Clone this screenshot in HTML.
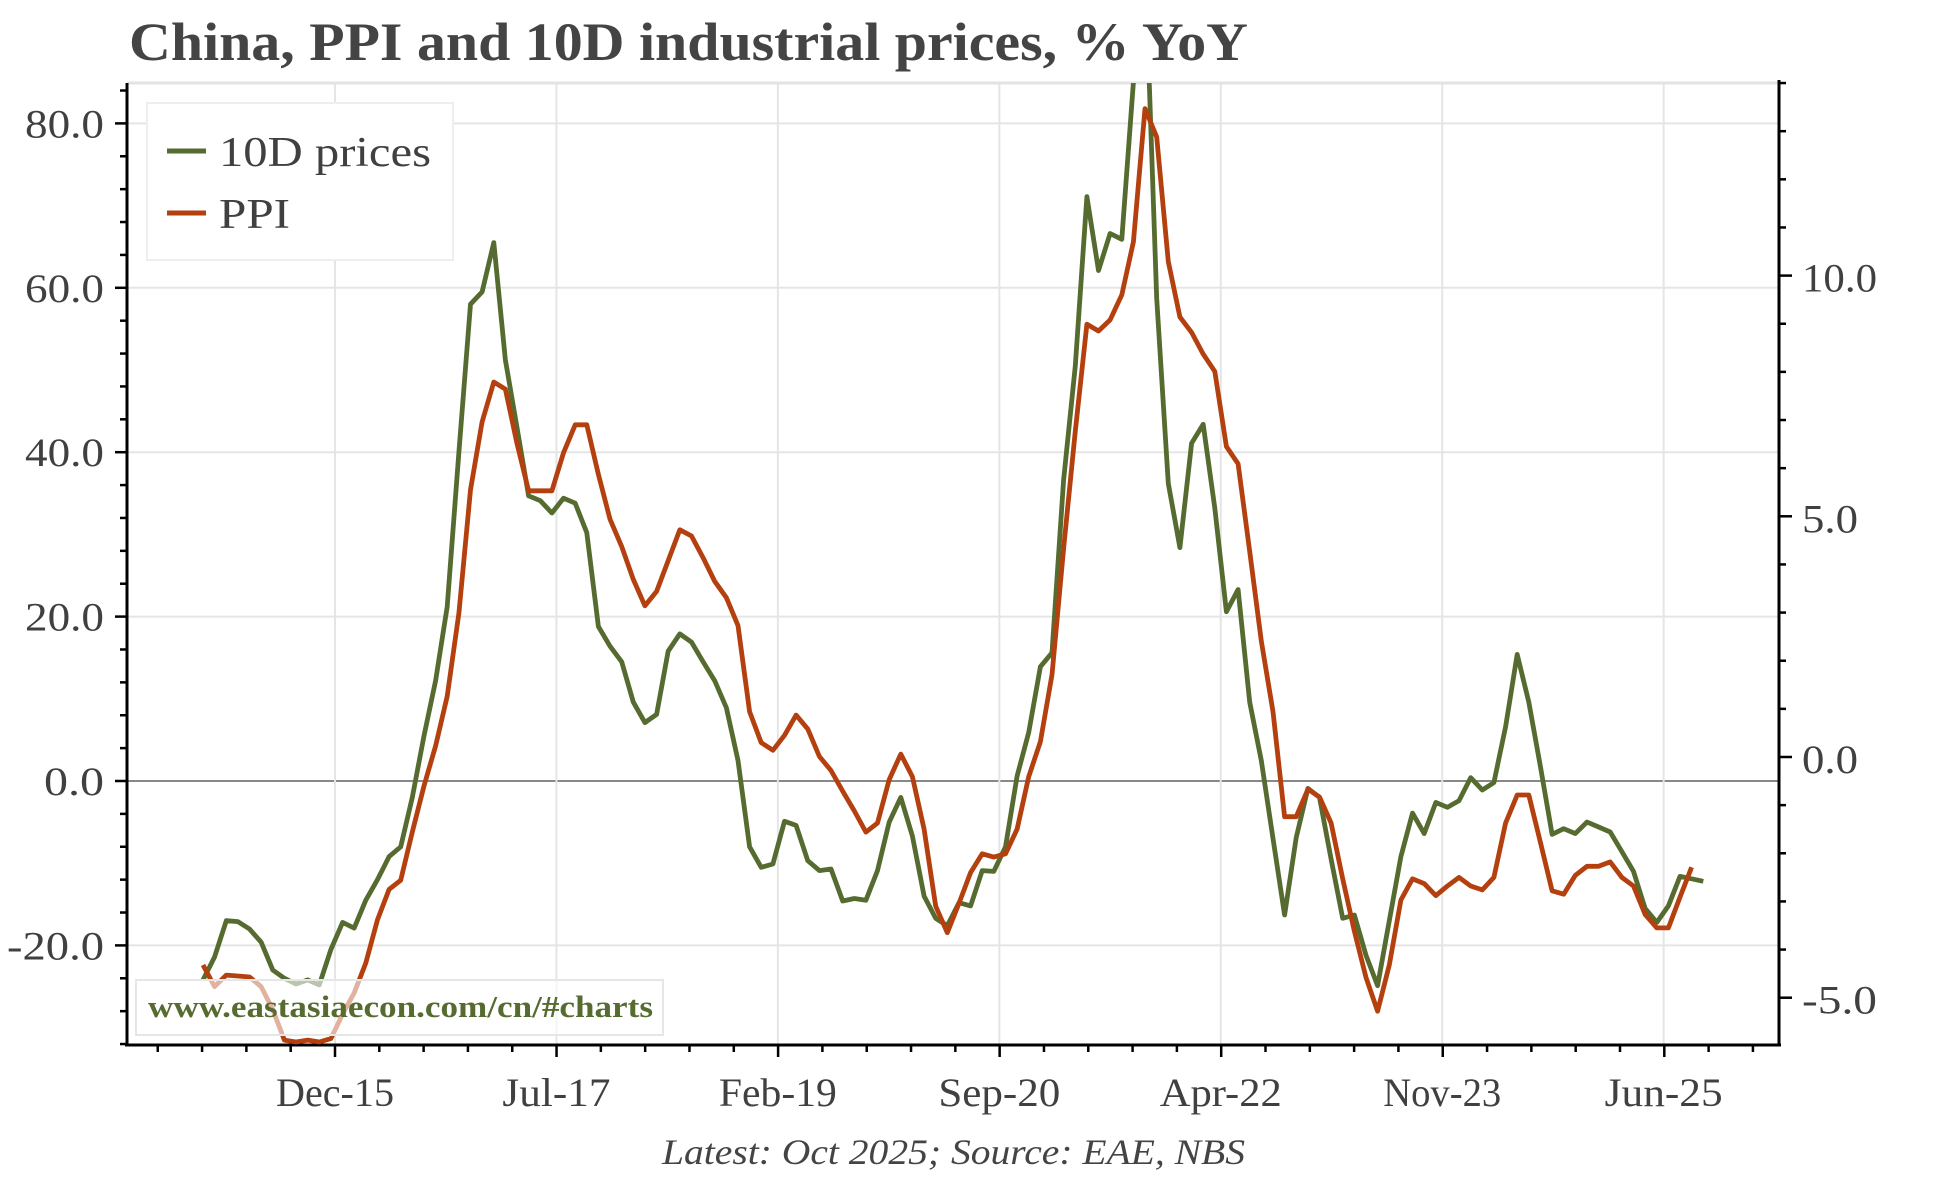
<!DOCTYPE html>
<html><head><meta charset="utf-8"><title>China, PPI and 10D industrial prices</title>
<style>
html,body{margin:0;padding:0;background:#fff;}
svg{display:block;font-family:"Liberation Serif",serif;}
</style></head>
<body>
<svg id="chart" width="1944" height="1178" viewBox="0 0 1944 1178" xmlns="http://www.w3.org/2000/svg">
  <defs><clipPath id="plotclip"><rect x="127" y="83" width="1652" height="962"/></clipPath></defs>
  <rect x="0" y="0" width="1944" height="1178" fill="#fff"/>
  <text x="129" y="60" font-size="54" font-weight="bold" fill="#444" textLength="1119" lengthAdjust="spacingAndGlyphs">China, PPI and 10D industrial prices, % YoY</text>
  <g id="grid"></g>
  <g id="axes"></g>
  <g id="series" clip-path="url(#plotclip)"></g>
  <g>
    <rect x="147" y="103" width="306" height="157" fill="#fff" stroke="#eeeeee" stroke-width="2"/>
    <line x1="167" y1="151" x2="206" y2="151" stroke="#566b30" stroke-width="5"/>
    <text x="219" y="166" font-size="42" fill="#404040" textLength="212" lengthAdjust="spacingAndGlyphs">10D prices</text>
    <line x1="167" y1="213" x2="206" y2="213" stroke="#b5400f" stroke-width="5"/>
    <text x="219" y="228" font-size="42" fill="#404040" textLength="71" lengthAdjust="spacingAndGlyphs">PPI</text>
  </g>
  <g>
    <rect x="136" y="980" width="527" height="55" fill="#fff" fill-opacity="0.6" stroke="#e6e6e6" stroke-width="2"/>
    <text x="148" y="1017" font-size="31" font-weight="bold" fill="#566b30" textLength="505" lengthAdjust="spacingAndGlyphs">www.eastasiaecon.com/cn/#charts</text>
  </g>
  <text x="662" y="1164" font-size="36" font-style="italic" fill="#444" textLength="583" lengthAdjust="spacingAndGlyphs">Latest: Oct 2025; Source: EAE, NBS</text>
</svg>
<script>
// ---- data (monthly, Jan 2015 onwards) ----
const tenD = [-24.2,-21.4,-17,-17.1,-18,-19.6,-23,-24,-24.7,-24.2,-24.8,-20.5,-17.2,-17.9,-14.5,-12,-9.2,-8,-2,5.5,
  12.2,21.2,40,58,59.5,65.5,51.2,43,34.7,34.1,32.6,34.4,33.8,30.2,18.8,16.4,14.5,9.6,7.1,8.1,
  15.8,17.9,16.9,14.5,12.2,8.9,2.5,-8,-10.5,-10.1,-4.9,-5.4,-9.7,-10.9,-10.7,-14.6,-14.3,-14.5,-10.9,-5,
  -2,-6.7,-14,-16.7,-17.6,-14.8,-15.2,-10.9,-11,-8,0.6,5.9,13.9,15.6,36.6,50.5,71.1,62.1,66.6,65.9,
  85,100,58.7,36.2,28.4,41.1,43.4,33.2,20.6,23.3,9.6,2.5,-7,-16.3,-6.9,-0.9,-2,-9.5,-16.7,-16.3,
  -21.2,-24.9,-17,-9.2,-3.9,-6.4,-2.6,-3.2,-2.4,0.4,-1.1,-0.2,6.6,15.4,9.6,1.7,-6.5,-5.8,-6.4,-5,
  -5.6,-6.2,-8.6,-11,-15.5,-17.2,-15.2,-11.6,-11.9,-12.2];
const ppi = [-4.32,-4.77,-4.53,-4.55,-4.57,-4.77,-5.25,-5.88,-5.92,-5.88,-5.92,-5.85,-5.34,-4.9,-4.28,-3.38,-2.75,-2.56,-1.56,-0.6,
  0.23,1.26,2.99,5.55,6.96,7.79,7.64,6.51,5.53,5.53,5.53,6.32,6.9,6.9,5.87,4.94,4.37,3.69,3.14,3.44,
  4.08,4.72,4.59,4.14,3.65,3.31,2.73,0.94,0.3,0.14,0.45,0.87,0.58,0.01,-0.28,-0.71,-1.12,-1.56,-1.37,-0.47,
  0.06,-0.41,-1.5,-3.1,-3.65,-3.04,-2.4,-2.01,-2.08,-2.01,-1.5,-0.41,0.32,1.71,4.33,6.77,8.99,8.85,9.08,9.6,
  10.7,13.47,12.88,10.29,9.14,8.82,8.37,8.01,6.45,6.09,4.27,2.41,0.94,-1.24,-1.24,-0.67,-0.83,-1.37,-2.53,-3.62,
  -4.58,-5.28,-4.32,-2.97,-2.53,-2.63,-2.88,-2.68,-2.5,-2.68,-2.76,-2.5,-1.37,-0.79,-0.79,-1.78,-2.78,-2.85,-2.46,-2.27,
  -2.27,-2.18,-2.5,-2.68,-3.27,-3.55,-3.55,-2.91,-2.29];
const xTickLabels = ["Dec-15","Jul-17","Feb-19","Sep-20","Apr-22","Nov-23","Jun-25"];
const xTickMonths = [11,30,49,68,87,106,125];
const leftTicks = [-20,0,20,40,60,80];
const rightTicks = [-5,0,5,10];

// ---- scales ----
const PL=127, PR=1779, PT=83, PB=1045;
function xM(m){ return 203 + 11.63*m; }
function xTick(m){ return 335 + (m-11)*11.655; }
function yL(v){ return 781 - v*8.22; }
function yR(v){ return 757 - v*48.14; }
const NS="http://www.w3.org/2000/svg";
function mk(tag, attrs, parent){ const e=document.createElementNS(NS,tag); for(const k in attrs) e.setAttribute(k,attrs[k]); parent.appendChild(e); return e; }
const grid=document.getElementById('grid'), axes=document.getElementById('axes'), series=document.getElementById('series');

// gridlines
leftTicks.forEach(v=>{
  const l=mk('line',{x1:PL,x2:PR,y1:yL(v),y2:yL(v),stroke:v===0?'#888':'#e5e5e5','stroke-width':2},grid);
  
  
});
xTickMonths.forEach(m=>{
  const l=mk('line',{x1:xTick(m),x2:xTick(m),y1:PT,y2:PB,stroke:'#e5e5e5','stroke-width':2},grid);
  
  
});
const topLine=mk('line',{x1:PL,x2:PR,y1:PT,y2:PT,stroke:'#e3e3e3','stroke-width':3},grid);



// series
function path(vals, xf, yf, color, name){
  const d=vals.map((v,i)=>(i?'L':'M')+xf(i).toFixed(1)+','+yf(v).toFixed(1)).join('');
  const p=mk('path',{d:d,fill:'none',stroke:color,'stroke-width':4.8,'stroke-linejoin':'round'},series);
  
  
}
path(tenD, xM, yL, '#566b30', 'line-10d-prices');
path(ppi, xM, yR, '#b5400f', 'line-ppi');

// axes lines
[[PL,PT,PL,PB+1],[PR,PT-3,PR,PB+1],[PL-2,PB,PR+2,PB]].forEach((c,i)=>{
  const l=mk('line',{x1:c[0],y1:c[1],x2:c[2],y2:c[3],stroke:'#000','stroke-width':3},axes);
  
  
});
// left ticks
for(let v=-32; v<=84; v+=4){
  const major = v%20===0;
  const t=mk('line',{x1:PL-(major?12:7),x2:PL,y1:yL(v),y2:yL(v),stroke:'#000','stroke-width':2.5},axes);
  
  
}
leftTicks.forEach(v=>{
  const s=v.toFixed(1);
  const t=mk('text',{x:104,y:yL(v)+14,'font-size':40,fill:'#404040','text-anchor':'end',textLength:s.length*19+(s.length>4?2:3),lengthAdjust:'spacingAndGlyphs'},axes);
  t.textContent=s;
  
  
});
// right ticks
for(let v=-5; v<=14; v+=1){
  const major = v%5===0;
  const t=mk('line',{x1:PR,x2:PR+(major?13:7),y1:yR(v),y2:yR(v),stroke:'#000','stroke-width':2.5},axes);
  
  
}
rightTicks.forEach(v=>{
  const s=v.toFixed(1);
  const t=mk('text',{x:1802,y:yR(v)+16,'font-size':40,fill:'#404040',textLength:s.length*19-1,lengthAdjust:'spacingAndGlyphs'},axes);
  t.textContent=s;
  
  
});
// x ticks
for(let k=-4;k<=32;k++){
  const x=335+k*44.31;
  if(x<PL+5||x>PR-5) continue;
  const major=k%5===0;
  const t=mk('line',{x1:x,x2:x,y1:PB,y2:PB+(major?12:7),stroke:'#000','stroke-width':2.5},axes);
  
  
}
xTickLabels.forEach((s,i)=>{
  const t=mk('text',{x:xTick(xTickMonths[i]),y:1106,'font-size':40,fill:'#404040','text-anchor':'middle',textLength:s==='Jul-17'?108:(s==='Apr-22'||s==='Sep-20'?122:118),lengthAdjust:'spacingAndGlyphs'},axes);
  t.textContent=s;
  
  
});
</script>
</body></html>
